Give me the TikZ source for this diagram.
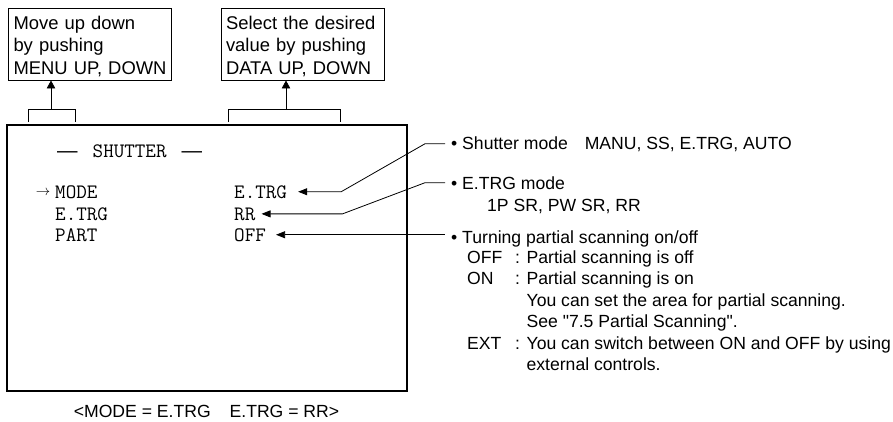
\documentclass[tikz,border=0pt]{standalone}
\usepackage{fontspec}
\setmainfont{Liberation Sans}
\usetikzlibrary{arrows.meta, positioning}

\tikzset{
  helpbox/.style={draw, line width=0.9pt, align=left, text width=153pt, inner xsep=5pt, minimum height=68pt, font=\fontsize{18.4}{22.5}\selectfont, execute at begin node=\rule{0pt}{18pt}},
  screen/.style={anchor=base west, inner sep=0pt, font=\ttfamily\fontsize{20.5}{22}\selectfont},
  note/.style={anchor=base west, inner sep=0pt, font=\fontsize{17.6}{21.5}\selectfont},
  leader/.style={line width=0.8pt, {Triangle[length=9pt,width=7pt]}-},
  uparrow/.style={line width=0.8pt, -{Triangle[length=8pt,width=8.5pt]}}
}

\begin{document}
\begin{tikzpicture}[x=1pt, y=-1pt]
        \useasboundingbox (0,0) rectangle (893,421);
        % help boxes above the screen
        \node[helpbox] (menubox) at (90,44) {Move up down\\by pushing\\MENU UP, DOWN};
        \node[helpbox] (databox) at (302.5,44) {Select the desired\\value by pushing\\DATA UP, DOWN};
        \coordinate (menubr) at (51,109);
        \coordinate (databr) at (286,109);
        \draw[line width=0.8pt] (28,122) -- (28,109) -- (75,109) -- (75,122);
        \draw[line width=0.8pt] (228,122) -- (228,109) -- (340,109) -- (340,122);
        \draw[uparrow] (menubr) -- (menubr |- menubox.south);
        \draw[uparrow] (databr) -- (databr |- databox.south);
        % the screen
        \draw[line width=1.8pt] (7,125) rectangle (407,391);
        \node[screen] (title) at (57,157) {{\normalfont---}\hspace{15pt}SHUTTER\hspace{15pt}{\normalfont---}};
        \node[font=\fontsize{14}{14}\selectfont, inner sep=0pt] (cursor) at (43,193) {$\rightarrow$};
        \node[screen] (modekey) at (55,198) {MODE};
        \node[screen] (trgkey) at (55,220) {E.TRG};
        \node[screen] (partkey) at (55,241) {PART};
        \node[screen] (modeval) at (234,198) {E.TRG};
        \node[screen] (trgval) at (234,220) {RR};
        \node[screen] (partval) at (234,241) {OFF};
        % notes on the right
        \node[note] (shutnote) at (451,149) {• Shutter mode\hspace{12pt} MANU, SS, E.TRG, AUTO};
        \node[note] (trgnote) at (451,189) {• E.TRG mode};
        \node[note] (trglist) at (487,211) {1P SR, PW SR, RR};
        \node[note] (partnote) at (451,243) {• Turning partial scanning on/off};
        \node[note] (partlist) at (467,263) {\begin{tabular}[t]{@{}p{48pt}@{}l@{}}
            OFF & : Partial scanning is off\\
            ON & : Partial scanning is on\\
             & \phantom{: }You can set the area for partial scanning.\\
             & \phantom{: }See \textquotedbl 7.5 Partial Scanning\textquotedbl.\\
            EXT & : You can switch between ON and OFF by using\\
             & \phantom{: }external controls.
          \end{tabular}};
        \draw[leader] ([xshift=11pt]modeval.east) -- ++(43,0) -- ([xshift=-26pt]shutnote.west) -- ([xshift=-6pt]shutnote.west);
        \draw[leader] ([xshift=6pt]trgval.east) -- ++(81,0) -- ([xshift=-26pt]trgnote.west) -- ([xshift=-6pt]trgnote.west);
        \draw[leader, shorten >=6pt] ([xshift=10pt]partval.east) -- (partval.east -| partnote.west);
        \node[note, anchor=base] (caption) at (206.5,417) {<MODE = E.TRG\hspace{14pt} E.TRG = RR>};
    \end{tikzpicture}
\end{document}
